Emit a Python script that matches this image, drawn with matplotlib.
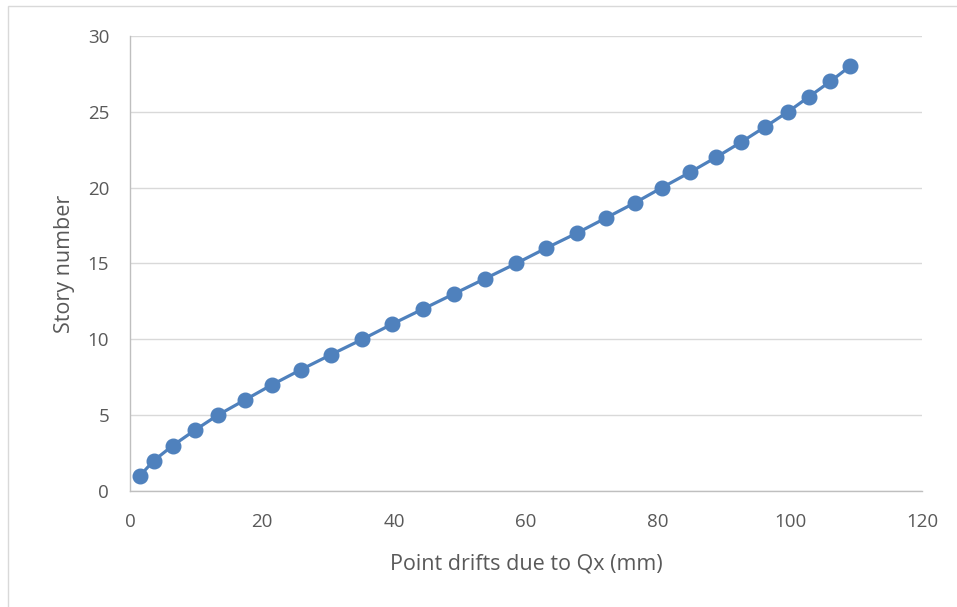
import matplotlib.pyplot as plt
from matplotlib.patches import Rectangle

# story numbers and drift values (mm)
stories = list(range(1, 29))
drifts = [1.5, 3.6, 6.5, 9.8, 13.3, 17.4, 21.5, 25.9, 30.5, 35.2,
          39.7, 44.4, 49.1, 53.8, 58.5, 63.0, 67.7, 72.1, 76.5, 80.6,
          84.8, 88.8, 92.6, 96.2, 99.7, 102.9, 106.1, 109.1]
x_ticks = [0, 20, 40, 60, 80, 100, 120]
y_ticks = [0, 5, 10, 15, 20, 25, 30]

plt.rcParams['font.family'] = ['Open Sans', 'DejaVu Sans']

fig = plt.figure(figsize=(9.57, 6.07), dpi=100)
ax = fig.add_axes([0.1358, 0.1911, 0.8276, 0.7496])

# light frame around the whole chart area
fig.patches.append(Rectangle((8 / 957, -0.05), 1.2, 1 - 6 / 607 + 0.05,
                             transform=fig.transFigure, fill=False,
                             edgecolor='#D9D9D9', linewidth=1.0))

ax.plot(drifts, stories, color='#4F81BD', linewidth=2.3,
        marker='o', markersize=10.5, zorder=3)

ax.set_xlim(0, 120)
ax.set_ylim(0, 30)
ax.set_xticks(x_ticks)
ax.set_yticks(y_ticks)
ax.grid(axis='y', color='#D9D9D9', linewidth=1.0)
ax.set_axisbelow(True)

for s in ['top', 'right']:
    ax.spines[s].set_visible(False)
for s in ['left', 'bottom']:
    ax.spines[s].set_color('#BFBFBF')
    ax.spines[s].set_linewidth(1.0)

ax.tick_params(length=0, labelsize=13.5, labelcolor='#595959')
ax.tick_params(axis='x', pad=16)
ax.tick_params(axis='y', pad=15)
ax.set_xlabel('Point drifts due to Qx (mm)', fontsize=15.5, color='#595959', labelpad=16)
ax.set_ylabel('Story number', fontsize=15.5, color='#595959', labelpad=9)

fig.savefig('out.png', dpi=100)
